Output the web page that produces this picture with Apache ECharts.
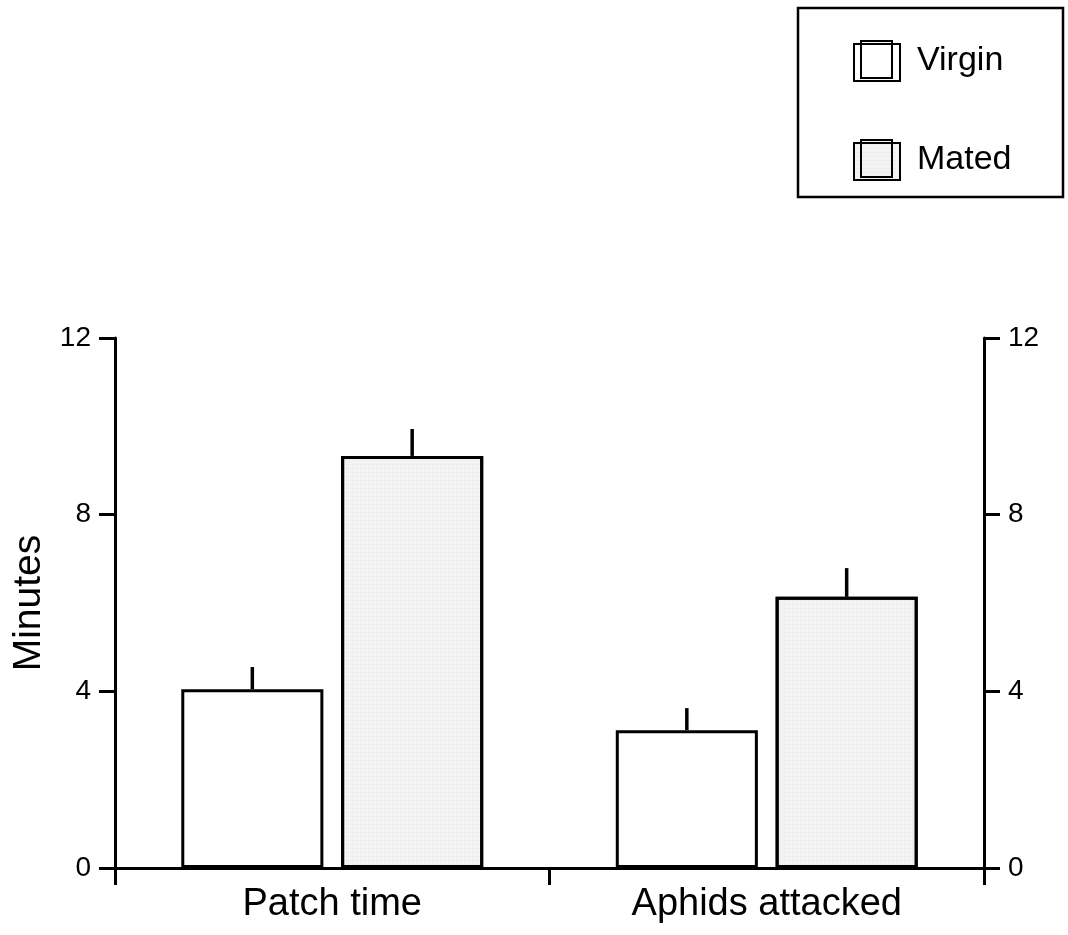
<!DOCTYPE html>
<html>
<head>
<meta charset="utf-8">
<script src="https://cdn.jsdelivr.net/npm/echarts@6/dist/echarts.min.js"></script>
<style>
html,body{margin:0;padding:0;background:#fff;}
#chart{width:1068px;height:935px;}
</style>
</head>
<body>
<div id="chart"></div>
<script>
// ---- data ----
const categories = ['Patch time', 'Aphids attacked'];
const seriesNames = ['Virgin', 'Mated'];
const virginValues = [4.05, 3.12];
const matedValues = [9.33, 6.14];
const virginErrors = [0.5, 0.5];
const matedErrors = [0.61, 0.65];
const yTicks = [0, 4, 8, 12];

// ---- layout / style ----
const FONT = "'Liberation Sans', Arial, Helvetica, sans-serif";
const BAR_FRAC = 0.327;
const GAP_FRAC = 0.125;
const LEGEND_ICON = 'path://M0,3 L46,3 L46,40 L0,40 Z M7,0 L38,0 L38,37 L7,37 Z';

const errorData = [];
virginValues.forEach((v, i) => errorData.push([i, v, virginErrors[i], 0]));
matedValues.forEach((v, i) => errorData.push([i, v, matedErrors[i], 1]));

function renderError(params, api) {
  const ci = api.value(0), v = api.value(1), e = api.value(2), si = api.value(3);
  const band = api.size([1, 0])[0];
  const bw = band * BAR_FRAC;
  const gap = bw * GAP_FRAC;
  const off = (si === 0 ? -1 : 1) * (bw + gap) / 2;
  const p0 = api.coord([ci, v]);
  const p1 = api.coord([ci, v + e]);
  return {
    type: 'line',
    shape: { x1: p0[0] + off, y1: p0[1], x2: p1[0] + off, y2: p1[1] },
    style: { stroke: '#000', lineWidth: 3.5 }
  };
}

const yAxisCommon = {
  type: 'value',
  min: yTicks[0],
  max: yTicks[yTicks.length - 1],
  interval: 4,
  splitLine: { show: false },
  axisLine: { show: true, lineStyle: { color: '#000', width: 3 } },
  axisTick: { show: true, length: 16, lineStyle: { color: '#000', width: 3 } },
  axisLabel: { color: '#000', fontFamily: FONT, fontSize: 28, margin: 24 }
};

const chart = echarts.init(document.getElementById('chart'), null, { renderer: 'canvas' });
chart.setOption({
  backgroundColor: '#fff',
  animation: false,
  grid: { left: 115, right: 84, top: 338, bottom: 67, containLabel: false },
  legend: {
    data: seriesNames,
    orient: 'vertical',
    left: 848,
    top: 35,
    itemWidth: 46,
    itemHeight: 40,
    itemGap: 57,
    icon: LEGEND_ICON,
    textStyle: { color: '#000', fontFamily: FONT, fontSize: 34, padding: [0, 0, 0, 12] }
  },
  graphic: [{
    type: 'rect',
    shape: { x: 798, y: 8, width: 265, height: 189 },
    style: { fill: 'none', stroke: '#000', lineWidth: 2.5 },
    silent: true
  }],
  xAxis: {
    type: 'category',
    data: categories,
    boundaryGap: true,
    axisLine: { show: true, lineStyle: { color: '#000', width: 3 } },
    axisTick: { show: true, length: 17, alignWithLabel: false, lineStyle: { color: '#000', width: 3 } },
    axisLabel: { color: '#000', fontFamily: FONT, fontSize: 38, margin: 18 }
  },
  yAxis: [
    Object.assign({}, yAxisCommon, {
      position: 'left',
      name: 'Minutes',
      nameLocation: 'middle',
      nameRotate: 90,
      nameGap: 64,
      nameTextStyle: { color: '#000', fontFamily: FONT, fontSize: 39 }
    }),
    Object.assign({}, yAxisCommon, { position: 'right' })
  ],
  series: [
    {
      name: seriesNames[0],
      type: 'bar',
      data: virginValues,
      barWidth: (BAR_FRAC * 100) + '%',
      barGap: (GAP_FRAC * 100) + '%',
      itemStyle: { color: '#ffffff', borderColor: '#000', borderWidth: 3 }
    },
    {
      name: seriesNames[1],
      type: 'bar',
      data: matedValues,
      barWidth: (BAR_FRAC * 100) + '%',
      barGap: (GAP_FRAC * 100) + '%',
      itemStyle: {
        color: '#f3f3f3',
        borderColor: '#000',
        borderWidth: 3,
        decal: {
          symbol: 'rect',
          symbolSize: 0.6,
          color: 'rgba(0,0,0,0.22)',
          dashArrayX: [1, 3],
          dashArrayY: [1, 3],
          rotation: 0
        }
      }
    },
    {
      name: 'error',
      type: 'custom',
      renderItem: renderError,
      data: errorData,
      encode: { x: 0, y: 1 },
      z: 5
    }
  ]
});
</script>
</body>
</html>
